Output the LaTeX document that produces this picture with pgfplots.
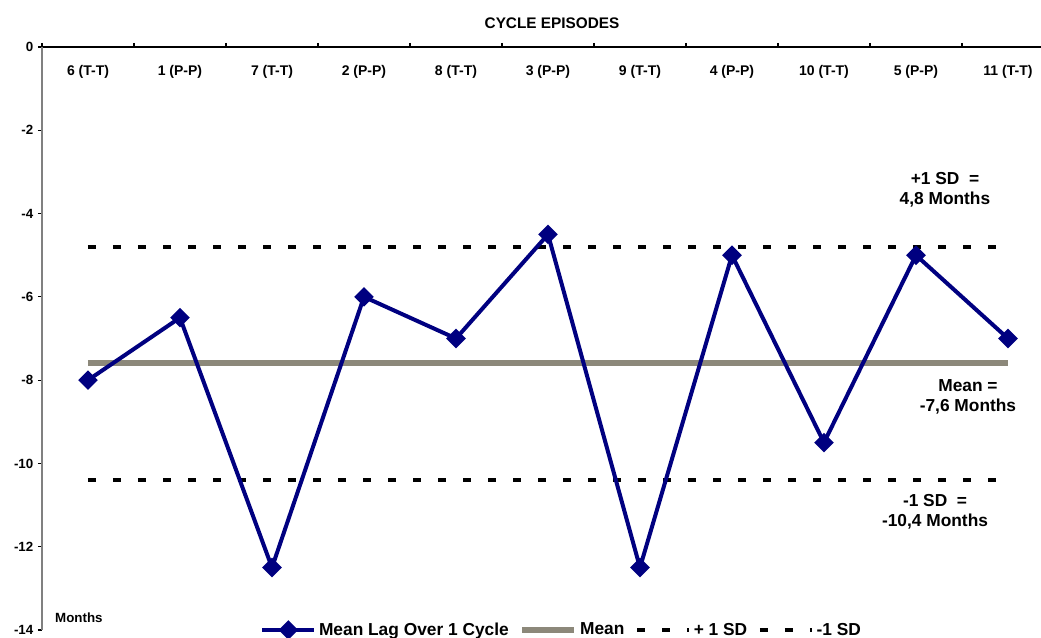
\documentclass[border=0pt]{standalone}
\usepackage{fontspec}
\setmainfont{Liberation Sans}
\usepackage{pgfplots}
\pgfplotsset{compat=1.18}
\definecolor{navy}{RGB}{0,0,128}
\definecolor{meangray}{RGB}{140,136,122}
\begin{document}
\begin{tikzpicture}
\begin{axis}[
  at={(0,0)}, anchor=south west,
  scale only axis, width=749.25pt, height=437.25pt,
  xmin=-0.5, xmax=10.359, ymin=-14, ymax=0,
  axis x line=top, axis y line=left,
  x axis line style={-, black, line width=1pt},
  y axis line style={-, gray, line width=1.5pt},
  xtick={0,...,10},
  xticklabels={6 (T-T),1 (P-P),7 (T-T),2 (P-P),8 (T-T),3 (P-P),9 (T-T),4 (P-P),10 (T-T),5 (P-P),11 (T-T)},
  major x tick style={draw=none},
  minor xtick={-0.5,0.5,...,9.5},
  minor x tick style={black, line width=0.8pt},
  minor tick length=3pt,
  ytick={0,-2,...,-14},
  major tick length=3pt,
  y tick style={black, line width=0.8pt},
  tick align=outside,
  xticklabel style={anchor=north, yshift=-13pt, font=\fontsize{10.5}{12}\selectfont\bfseries},
  yticklabel style={font=\fontsize{10}{12}\selectfont\bfseries},
  /pgf/number format/assume math mode=true,
  title={CYCLE EPISODES},
  title style={at={(0.5105,1)}, anchor=center, yshift=11.6pt, font=\fontsize{11.5}{13}\selectfont\bfseries},
  legend columns=4,
  legend style={at={(0.5205,0)}, anchor=center, draw=none, fill=none, font=\fontsize{13}{15}\selectfont\bfseries, /tikz/every even column/.append style={column sep=6pt}, inner sep=0pt},
  legend image code/.code={\draw[mark repeat=2,mark phase=2,#1] plot coordinates {(0pt,0pt) (19.5pt,0pt) (39pt,0pt)};},
  clip=false,
]
\addlegendimage{navy, line width=3pt, mark=square*, mark size=3.7pt, mark options={rotate=45, solid}}
\addlegendentry{Mean Lag Over 1 Cycle}
\addlegendimage{meangray, line width=4.5pt}
\addlegendentry{Mean}
\addlegendimage{black, line width=3pt, dash pattern=on 6pt off 12.75pt}
\addlegendentry{+ 1 SD}
\addlegendimage{black, line width=3pt, dash pattern=on 6pt off 12.75pt}
\addlegendentry{-1 SD}

\addplot[meangray, line width=4.5pt, forget plot] coordinates {(0,-7.6) (10,-7.6)};
\addplot[black, line width=3pt, dash pattern=on 6pt off 12.75pt, forget plot] coordinates {(0,-4.8) (10,-4.8)};
\addplot[black, line width=3pt, dash pattern=on 6pt off 12.75pt, forget plot] coordinates {(0,-10.4) (10,-10.4)};
\addplot[navy, line width=3pt, mark=square*, mark size=3.7pt, mark options={rotate=45, solid}, forget plot] coordinates {
(0,-8) (1,-6.5) (2,-12.5) (3,-6) (4,-7) (5,-4.5) (6,-12.5) (7,-5) (8,-9.5) (9,-5) (10,-7)};

\node[align=center, font=\fontsize{13}{15}\selectfont\bfseries] at (axis cs:9.315,-3.42) {+1 SD\ \ =\\4,8 Months};
\node[align=center, font=\fontsize{13}{15}\selectfont\bfseries] at (axis cs:9.565,-8.41) {Mean =\\-7,6 Months};
\node[align=center, font=\fontsize{13}{15}\selectfont\bfseries] at (axis cs:9.207,-11.17) {-1 SD\ \ =\\-10,4 Months};
\node[anchor=west, inner sep=0pt, font=\fontsize{10}{12}\selectfont\bfseries] at (axis cs:-0.359,-13.71) {Months};
\end{axis}
\pgfresetboundingbox
\path[use as bounding box] (-31.5pt,-5.25pt) rectangle (749.25pt,472.5pt);
\end{tikzpicture}
\end{document}
